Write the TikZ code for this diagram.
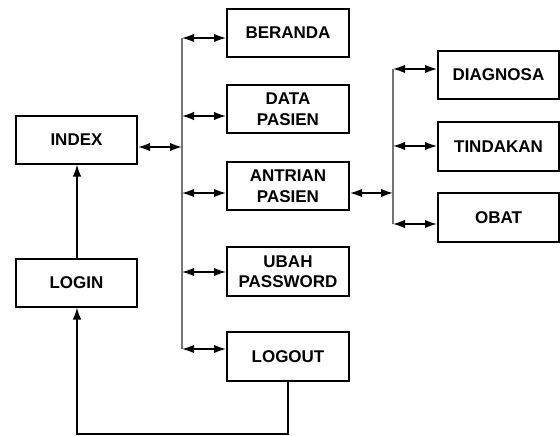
\documentclass[tikz,border=0pt]{standalone}
\usepackage{fontspec}
\setmainfont{Liberation Sans}
\usetikzlibrary{arrows.meta}
\begin{document}
\begin{tikzpicture}[x=1pt,y=-1pt,
  box/.style={draw=black,line width=2pt,fill=white,minimum width=121pt,minimum height=48pt,
    align=center,inner sep=0pt,font=\fontsize{17}{20.5}\selectfont\bfseries},
  tip/.tip={Latex[length=12pt,width=8.5pt]},
  biarrow/.style={line width=1.5pt,tip-tip},
  onearrow/.style={line width=1.5pt,-tip},
  bus/.style={line width=1.3pt,draw=black!55}]
\useasboundingbox (0,0) rectangle (560,436);

% left column
\node[box] (index) at (76.5,139.5) {INDEX};
\node[box] (login) at (76.5,282.5) {LOGIN};

% menu column
\node[box,minimum width=122pt] (beranda) at (288,33) {BERANDA};
\node[box,minimum width=122pt] (data) at (288,109) {DATA\\PASIEN};
\node[box,minimum width=122pt] (antrian) at (288,186) {ANTRIAN\\PASIEN};
\node[box,minimum width=122pt,minimum height=49pt] (ubah) at (288,271.5) {UBAH\\PASSWORD};
\node[box,minimum width=122pt,minimum height=49pt] (logout) at (288,356.5) {LOGOUT};

% sub-menu column
\node[box] (diagnosa) at (498.5,75) {DIAGNOSA};
\node[box,minimum height=49pt] (tindakan) at (498.5,146.5) {TINDAKAN};
\node[box,minimum height=49pt] (obat) at (498.5,217.5) {OBAT};

% main bus
\coordinate (m0) at (182,147);
\coordinate (m1) at (182,38);
\coordinate (m2) at (182,116);
\coordinate (m3) at (182,193);
\coordinate (m4) at (182,272);
\coordinate (m5) at (182,349);
\draw[bus] (m1) -- (m5);
\draw[biarrow] (index.east |- m0) -- (m0);
\draw[biarrow] (m1) -- (m1 -| beranda.west);
\draw[biarrow] (m2) -- (m2 -| data.west);
\draw[biarrow] (m3) -- (m3 -| antrian.west);
\draw[biarrow] (m4) -- (m4 -| ubah.west);
\draw[biarrow] (m5) -- (m5 -| logout.west);

% sub bus
\coordinate (s0) at (393,193);
\coordinate (s1) at (393,69);
\coordinate (s2) at (393,146);
\coordinate (s3) at (393,224);
\draw[bus] (s1) -- (s3);
\draw[biarrow] (antrian.east |- s0) -- (s0);
\draw[biarrow] (s1) -- (s1 -| diagnosa.west);
\draw[biarrow] (s2) -- (s2 -| tindakan.west);
\draw[biarrow] (s3) -- (s3 -| obat.west);

% login flow
\coordinate (back) at (77,434);
\draw[onearrow] (login.north -| back) -- (index.south -| back);
\draw[onearrow] (logout.south) -- (logout.south |- back) -- (back) -- (login.south -| back);
\end{tikzpicture}
\end{document}
